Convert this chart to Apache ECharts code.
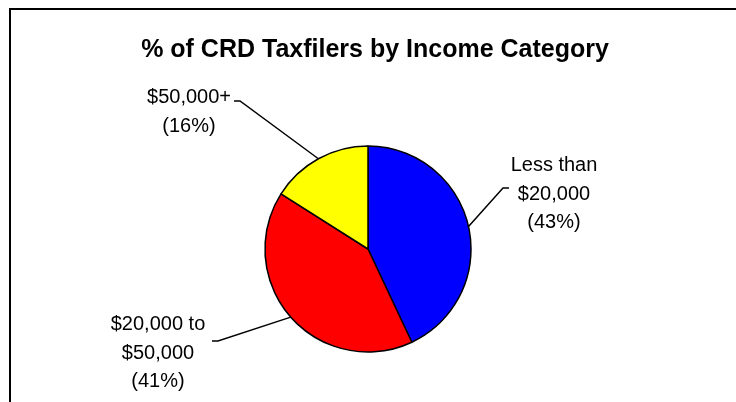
<!DOCTYPE html>
<html>
<head>
<meta charset="utf-8">
<script src="https://cdn.jsdelivr.net/npm/echarts@6/dist/echarts.min.js"></script>
<style>
html,body{margin:0;padding:0;background:#fff;}
#chart{width:736px;height:402px;}
</style>
</head>
<body>
<div id="chart"></div>
<script>
// Data
var categories = ['Less than\n$20,000', '$20,000 to\n$50,000', '$50,000+'];
var percents = [43, 41, 16];
var colors = ['#0000FF', '#FF0000', '#FFFF00'];

// Label placement (layout only)
var labelLayouts = [
  { x: 554, y: 194, bend: [503, 188], end: 509 },
  { x: 158, y: 353, bend: [218, 341], end: 212 },
  { x: 189, y: 112, bend: [240, 101], end: 234 }
];

var chart = echarts.init(document.getElementById('chart'), null, { renderer: 'canvas' });

var data = categories.map(function (c, i) {
  return { name: c, value: percents[i], itemStyle: { color: colors[i] } };
});

chart.setOption({
  backgroundColor: '#ffffff',
  animation: false,
  title: {
    text: '% of CRD Taxfilers by Income Category',
    left: 370,
    top: 33,
    textAlign: 'center',
    textStyle: { fontFamily: 'Liberation Sans, Arial, sans-serif', fontWeight: 'bold', fontSize: 25, color: '#000' }
  },
  graphic: [
    { type: 'line', shape: { x1: 9, y1: 9, x2: 736, y2: 9 }, style: { stroke: '#000', lineWidth: 2 }, silent: true },
    { type: 'line', shape: { x1: 10, y1: 8, x2: 10, y2: 402 }, style: { stroke: '#000', lineWidth: 2 }, silent: true }
  ],
  series: [{
    type: 'pie',
    center: [368, 249],
    radius: 103,
    startAngle: 90,
    clockwise: true,
    data: data,
    itemStyle: { borderColor: '#000', borderWidth: 1.5 },
    label: {
      show: true,
      formatter: function (p) { return p.name + '\n(' + p.value + '%)'; },
      fontFamily: 'Liberation Sans, Arial, sans-serif',
      fontSize: 20,
      lineHeight: 28.5,
      color: '#000'
    },
    labelLine: { show: true, lineStyle: { color: '#000', width: 1.5 } },
    labelLayout: function (params) {
      var L = labelLayouts[params.dataIndex];
      var start = params.labelLinePoints ? params.labelLinePoints[0] : L.bend;
      return {
        x: L.x,
        y: L.y,
        align: 'center',
        verticalAlign: 'middle',
        labelLinePoints: [start, L.bend, [L.end, L.bend[1]]]
      };
    },
    emphasis: { disabled: true }
  }]
});
</script>
</body>
</html>
